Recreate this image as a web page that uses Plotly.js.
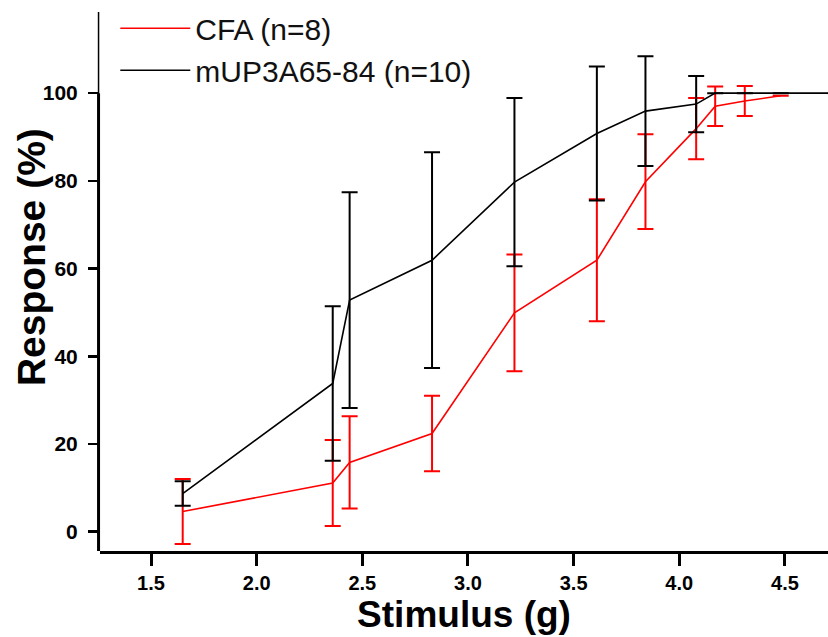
<!DOCTYPE html>
<html>
<head>
<meta charset="utf-8">
<script src="https://cdn.plot.ly/plotly-3.0.1.min.js"></script>
<style>html,body{margin:0;padding:0;background:#fff;}#chart{width:828px;height:637px;}</style>
</head>
<body>
<div id="chart"></div>
<script>
// Stimulus (log units, g) for each group
var cfaStimulus = [1.65, 2.36, 2.44, 2.83, 3.22, 3.61, 3.84, 4.08, 4.17, 4.31, 4.48];
var cfaResponse = [4.6, 11.1, 15.8, 22.4, 49.9, 61.9, 79.8, 91.9, 97.0, 98.2, 99.4];
var cfaError    = [7.4, 9.8, 10.5, 8.6, 13.3, 13.9, 10.8, 7.0, 4.5, 3.4, 0];

var upStimulus = [1.65, 2.36, 2.44, 2.83, 3.22, 3.61, 3.84, 4.08, 4.17, 4.31, 4.48, 4.74];
var upResponse = [8.7, 33.8, 52.8, 61.9, 79.7, 90.8, 95.9, 97.5, 100, 100, 100, 100];
var upError    = [2.8, 17.6, 24.6, 24.6, 19.2, 15.3, 12.5, 6.4, 0, 0, 0, 0];

var seriesNames = ["CFA (n=8)", "mUP3A65-84 (n=10)"];
var yTicks = [0, 20, 40, 60, 80, 100];
var xTicks = [1.5, 2.0, 2.5, 3.0, 3.5, 4.0, 4.5];
var xTickText = ["1.5", "2.0", "2.5", "3.0", "3.5", "4.0", "4.5"];

var FONT = "Arial, 'Liberation Sans', sans-serif";

var traces = [
  {
    x: cfaStimulus, y: cfaResponse, name: seriesNames[0],
    type: "scatter", mode: "lines",
    line: {color: "#ff0000", width: 1.6},
    error_y: {type: "data", array: cfaError, visible: true, color: "#ff0000", thickness: 2, width: 8},
    cliponaxis: true
  },
  {
    x: upStimulus, y: upResponse, name: seriesNames[1],
    type: "scatter", mode: "lines",
    line: {color: "#000000", width: 1.6},
    error_y: {type: "data", array: upError, visible: true, color: "#000000", thickness: 2, width: 8},
    cliponaxis: true
  }
];

var layout = {
  width: 828, height: 637,
  margin: {l: 100, r: 0, t: 12, b: 86, pad: 0},
  paper_bgcolor: "#ffffff", plot_bgcolor: "#ffffff",
  font: {family: FONT, color: "#000"},
  showlegend: true,
  legend: {
    x: 0.021, y: 1.018, xanchor: "left", yanchor: "top",
    bgcolor: "rgba(0,0,0,0)", borderwidth: 0,
    font: {family: FONT, size: 30, color: "#111"},
    itemwidth: 70, tracegroupgap: 0
  },
  xaxis: {
    range: [1.2586, 4.7039],
    tickmode: "array", tickvals: xTicks, ticktext: xTickText,
    ticks: "outside", ticklen: 12, tickwidth: 3, tickcolor: "#000",
    showline: true, linewidth: 3, linecolor: "#000",
    showgrid: false, zeroline: false,
    tickfont: {family: FONT, size: 20, color: "#000", weight: "bold"},
    title: {text: "<b>Stimulus (g)</b>", font: {family: FONT, size: 37, color: "#000"}, standoff: 6}
  },
  yaxis: {
    range: [-4.40, 118.5],
    tickmode: "array", tickvals: yTicks,
    ticks: "outside", ticklen: 11, tickwidth: 2.5, tickcolor: "#000",
    showline: false,
    showgrid: false, zeroline: false,
    ticklabelstandoff: 6,
    tickfont: {family: FONT, size: 21, color: "#000", weight: "bold"}
  },
  shapes: [
    {type: "line", xref: "paper", yref: "y", x0: -0.002, x1: -0.002, y0: -4.40, y1: 100, line: {color: "#000", width: 3}},
    {type: "line", xref: "paper", yref: "y", x0: -0.002, x1: -0.002, y0: 100, y1: 118.5, line: {color: "#000", width: 1.5}}
  ],
  annotations: [
    {text: "<b>Response (%)</b>", xref: "paper", yref: "paper", x: -0.095, y: 0.545,
     xanchor: "center", yanchor: "middle", textangle: -90, showarrow: false,
     font: {family: FONT, size: 39, color: "#000"}}
  ]
};

Plotly.newPlot("chart", traces, layout, {displayModeBar: false, staticPlot: true});
</script>
</body>
</html>
